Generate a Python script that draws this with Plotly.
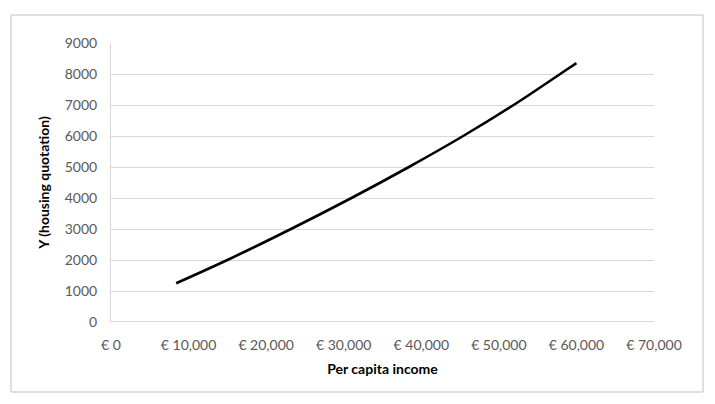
import plotly.graph_objects as go

# values (where the curve crosses each gridline)
income = [8400, 15000, 23200, 31000, 38400, 45400, 51900, 57900, 60000]
housing = [1250, 2000, 3000, 4000, 5000, 6000, 7000, 8000, 8350]

x_ticks = [0, 10000, 20000, 30000, 40000, 50000, 60000, 70000]
x_labels = ["€ 0", "€ 10,000", "€ 20,000", "€ 30,000", "€ 40,000", "€ 50,000", "€ 60,000", "€ 70,000"]
y_ticks = [0, 1000, 2000, 3000, 4000, 5000, 6000, 7000, 8000, 9000]

# page body adds 8px, so the figure is drawn 8px smaller
W, H = 707, 396
L, R, T, B = 103, 61, 35, 82
pw, ph = W - L - R, H - T - B

font = "Lato, 'Open Sans', sans-serif"

fig = go.Figure()
fig.add_trace(go.Scatter(
  x=income, y=housing, mode="lines", line_shape="spline", line_smoothing=1.0,
  line=dict(color="black", width=2.6), showlegend=False, hoverinfo="x+y",
))

fig.update_layout(
  width=W, height=H, margin=dict(l=L, r=R, t=T, b=B),
  paper_bgcolor="white", plot_bgcolor="white",
  font=dict(family=font, size=14, color="#595959"),
  xaxis=dict(
    range=[0, 70000], tickvals=x_ticks, ticktext=x_labels,
    showgrid=False, zeroline=False, showline=False, ticks="",
    ticklabelstandoff=13,
    title=dict(text="<b>Per capita income</b>", font=dict(size=14, color="black"), standoff=12),
  ),
  yaxis=dict(
    range=[0, 9000], tickvals=y_ticks, showgrid=True, gridcolor="#d9d9d9", gridwidth=1,
    zeroline=False, showline=True, linecolor="#d9d9d9", linewidth=1, ticks="",
    ticklabelstandoff=10,
    title=dict(text="<b>Y (housing quotation)</b>", font=dict(size=14, color="black"), standoff=11),
  ),
  shapes=[
    # outer chart border
    dict(type="rect", xref="paper", yref="paper",
         x0=(3 - L) / pw, x1=(695 - L) / pw, y0=(314 - 384) / ph, y1=(314 - 7) / ph,
         line=dict(color="#bfbfbf", width=1), fillcolor="rgba(0,0,0,0)", layer="below"),
    # x axis baseline
    dict(type="line", xref="paper", yref="y", x0=0, x1=1, y0=0, y1=0,
         line=dict(color="#cfcfcf", width=1.5), layer="below"),
  ],
)

fig.write_html("out.html")
